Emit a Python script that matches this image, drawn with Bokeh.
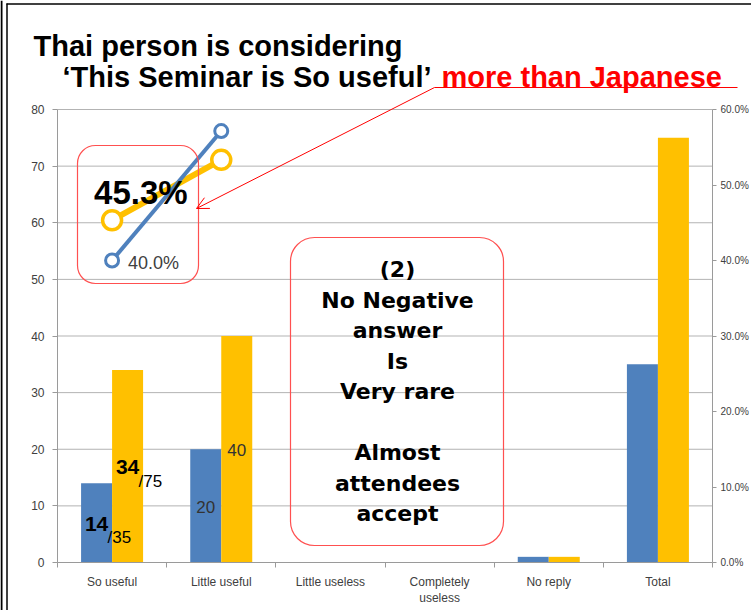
import numpy as np
from bokeh.plotting import figure
from bokeh.models import (Range1d, LinearAxis, FixedTicker, NumeralTickFormatter,
                          BoxAnnotation, Arrow, OpenHead, Label)
from bokeh.core.properties import value
from bokeh.embed import file_html
from bokeh.resources import INLINE

# ---------------- data ----------------
categories = ["So useful", "Little useful", "Little useless",
              "Completely\nuseless", "No reply", "Total"]
japanese = [14, 20, 0, 0, 1, 35]   # blue series
thai = [34, 40, 0, 0, 1, 75]       # yellow series
left_ticks = [0, 10, 20, 30, 40, 50, 60, 70, 80]
right_ticks = [0.0, 0.1, 0.2, 0.3, 0.4, 0.5, 0.6]
n_ratio = 2  # ratio line drawn for "So useful" and "Little useful"

# ---------------- styling / layout ----------------
BLUE = "#4F81BD"
YELLOW = "#FFC000"
RED = "#FF0000"
BOXRED = "#FF5050"
GRID = "#B3B3B3"
AXIS = "#9A9A9A"
TICKTXT = "#404040"

W, H = 751, 610
FL, FR, FB, FT = 57, 712, 562, 109      # plot-area edges in pixels
ncat = len(categories)
sx = (FR - FL) / ncat
sy = (FB - FT) / left_ticks[-1]
k = right_ticks[-1] / left_ticks[-1]


def X(px):
    return (px - FL) / sx


def Y(py):
    return (FB - py) / sy


xc = np.arange(ncat) + 0.5
bw = 0.284
jp_ratio = [japanese[i] / japanese[-1] for i in range(n_ratio)]
th_ratio = [thai[i] / thai[-1] for i in range(n_ratio)]

p = figure(width=W, height=H, title=None,
           x_range=Range1d(X(0), X(W)), y_range=Range1d(Y(H), Y(0)),
           output_backend="svg", toolbar_location=None, min_border=0)
p.outline_line_color = None
p.background_fill_color = "white"
p.border_fill_color = "white"
p.extra_y_ranges = {"pct": Range1d(Y(H) * k, Y(0) * k)}

# grid lines only inside the plot area
p.xgrid.visible = False
p.ygrid.visible = False
p.segment(x0=0, x1=ncat, y0=left_ticks[1:], y1=left_ticks[1:],
          line_color=GRID, line_width=1)

# left axis
ya = p.yaxis[0]
ya.fixed_location = 0
ya.bounds = (left_ticks[0], left_ticks[-1])
ya.ticker = FixedTicker(ticks=left_ticks)
ya.axis_line_color = AXIS
ya.major_tick_line_color = AXIS
ya.major_tick_out = 5
ya.major_tick_in = 0
ya.minor_tick_line_color = None
ya.major_label_standoff = 8
ya.major_label_text_font = "Liberation Sans"
ya.major_label_text_font_size = "12px"
ya.major_label_text_color = TICKTXT

# bottom axis
xa = p.xaxis[0]
xa.fixed_location = 0
xa.bounds = (0, ncat)
xa.ticker = FixedTicker(ticks=list(xc), minor_ticks=list(range(ncat + 1)))
xa.major_label_overrides = {float(x): c for x, c in zip(xc, categories)}
xa.axis_line_color = AXIS
xa.major_tick_line_color = None
xa.major_tick_out = 0
xa.major_tick_in = 0
xa.minor_tick_line_color = AXIS
xa.minor_tick_out = 5
xa.minor_tick_in = 0
xa.major_label_standoff = 7
xa.major_label_text_font = "Liberation Sans"
xa.major_label_text_font_size = "12px"
xa.major_label_text_color = TICKTXT

# right axis
ra = LinearAxis(y_range_name="pct", ticker=FixedTicker(ticks=right_ticks),
                formatter=NumeralTickFormatter(format="0.0%"),
                fixed_location=ncat, bounds=(right_ticks[0], right_ticks[-1]))
ra.axis_line_color = AXIS
ra.major_tick_line_color = AXIS
ra.major_tick_out = 4
ra.major_tick_in = 0
ra.minor_tick_line_color = None
ra.major_label_standoff = 4
ra.major_label_text_font = "Liberation Sans"
ra.major_label_text_font_size = "10px"
ra.major_label_text_color = TICKTXT
p.add_layout(ra, "right")

# bars
p.vbar(x=xc - bw / 2, top=japanese, width=bw, fill_color=BLUE, line_color=None)
p.vbar(x=xc + bw / 2, top=thai, width=bw, fill_color=YELLOW, line_color=None)

# ratio lines (right axis)
p.line(xc[:n_ratio], th_ratio, y_range_name="pct", line_color=YELLOW, line_width=6)
p.line(xc[:n_ratio], jp_ratio, y_range_name="pct", line_color=BLUE, line_width=4)
p.scatter(xc[:n_ratio], th_ratio, y_range_name="pct", size=19, marker="circle",
          fill_color="white", line_color=YELLOW, line_width=3.5)
p.scatter(xc[:n_ratio], jp_ratio, y_range_name="pct", size=13, marker="circle",
          fill_color="white", line_color=BLUE, line_width=3)

# ratio labels
p.text(x=[xc[0]], y=[th_ratio[0]], text=[f"{th_ratio[0]*100:.1f}%"], y_range_name="pct",
       x_offset=-18, y_offset=-28, text_align="left", text_baseline="middle",
       text_font=value("Liberation Sans"), text_font_style="bold",
       text_font_size="33px", text_color="black")
p.text(x=[xc[0]], y=[jp_ratio[0]], text=[f"{jp_ratio[0]*100:.1f}%"], y_range_name="pct",
       x_offset=16, y_offset=2, text_align="left", text_baseline="middle",
       text_font=value("Liberation Sans"), text_font_size="18px", text_color="#404040")

# bar value labels
p.text(x=[xc[0] - bw / 2, xc[0] + bw / 2], y=[japanese[0] / 2, thai[0] / 2],
       text=[str(japanese[0]), str(thai[0])], text_align="center", text_baseline="middle",
       y_offset=1, text_font=value("Liberation Sans"), text_font_style="bold",
       text_font_size="21px", text_color="black")
p.text(x=[xc[0] - bw / 2, xc[0] + bw / 2], y=[japanese[0] / 2, thai[0] / 2],
       text=["/" + str(japanese[-1]), "/" + str(thai[-1])], text_align="left",
       text_baseline="middle", x_offset=11, y_offset=15,
       text_font=value("Liberation Sans"), text_font_size="17px", text_color="black")
p.text(x=[xc[1] - bw / 2, xc[1] + bw / 2], y=[japanese[1] / 2, thai[1] / 2],
       text=[str(japanese[1]), str(thai[1])], text_align="center", text_baseline="middle",
       y_offset=1, text_font=value("Liberation Sans"), text_font_size="17px",
       text_color="#333333")

# rounded callout boxes
p.add_layout(BoxAnnotation(left=X(77), right=X(198), top=Y(145), bottom=Y(283),
                           fill_alpha=0, line_color=BOXRED, line_alpha=1.0,
                           line_width=1.2, border_radius=18))
p.add_layout(BoxAnnotation(left=X(290), right=X(503), top=Y(237), bottom=Y(545),
                           fill_alpha=0, line_color=BOXRED, line_alpha=1.0,
                           line_width=1.2, border_radius=24))
p.add_layout(Label(x=X(397), y=Y(391),
                   text="(2)\nNo Negative\nanswer\nIs\nVery rare\n\nAlmost\nattendees\naccept",
                   text_align="center", text_baseline="middle",
                   text_font="DejaVu Sans", text_font_style="bold",
                   text_font_size="22px", text_line_height=1.22, text_color="black"))

# red pointer: underline and arrow
p.add_layout(Arrow(x_start=X(737), y_start=Y(87), x_end=X(434), y_end=Y(87),
                   end=None, line_color=RED, line_width=1))
p.add_layout(Arrow(x_start=X(434), y_start=Y(87), x_end=X(196), y_end=Y(208),
                   end=OpenHead(size=12, line_color=RED, line_width=1),
                   line_color=RED, line_width=1))

# slide frame lines
for (x0, y0, x1, y1, lw) in [(1, 0, 1, H, 2), (6.5, 3, 6.5, H, 1.5), (6, 3.5, W, 3.5, 1.5)]:
    p.add_layout(Arrow(x_start=X(x0), y_start=Y(y0), x_end=X(x1), y_end=Y(y1),
                       end=None, line_color="black", line_width=lw))

# title
p.add_layout(Label(x=X(33), y=Y(45), text="Thai person is considering",
                   text_font="Liberation Sans", text_font_style="bold",
                   text_font_size="29px", text_color="black", text_baseline="alphabetic"))
p.add_layout(Label(x=X(62), y=Y(76), text="\u2018This Seminar is So useful\u2019",
                   text_font="Liberation Sans", text_font_style="bold",
                   text_font_size="29px", text_color="black", text_baseline="alphabetic"))
p.add_layout(Label(x=X(441), y=Y(76), text="more than Japanese",
                   text_font="Liberation Sans", text_font_style="bold",
                   text_font_size="29px", text_color=RED, text_baseline="alphabetic"))

open("out.html", "w").write(file_html(p, INLINE))
